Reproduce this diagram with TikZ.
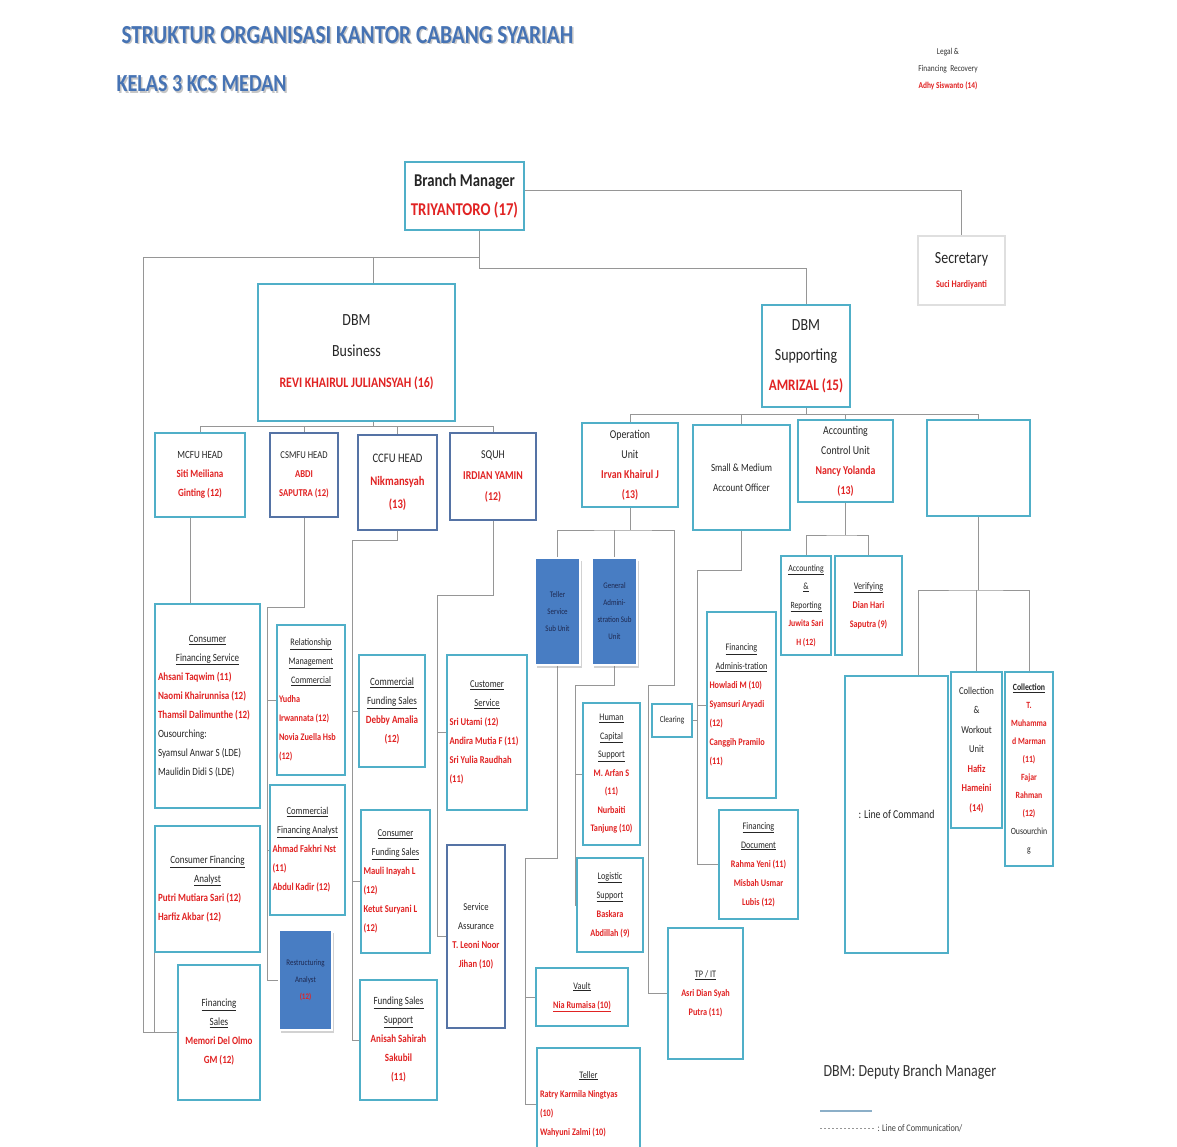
\documentclass[tikz,border=0pt]{standalone}
\usepackage{fontspec}
\setmainfont{Carlito}[FakeStretch=0.82]
\usetikzlibrary{shadows}
\definecolor{tealD}{RGB}{40,120,140}
\definecolor{tealL}{RGB}{80,175,200}
\definecolor{steelD}{RGB}{50,75,115}
\definecolor{steelL}{RGB}{85,115,165}
\definecolor{blueF}{RGB}{72,125,195}
\definecolor{redn}{RGB}{225,35,35}
\definecolor{lineg}{RGB}{150,150,150}
\definecolor{titleb}{RGB}{70,115,180}
\definecolor{darktx}{RGB}{30,40,80}
\definecolor{legblue}{RGB}{140,175,200}
\pgfdeclarelayer{bg}
\pgfsetlayers{bg,main}
\newcommand\nm[1]{\textcolor{redn}{\bfseries #1}}
\newcommand\ctr[1]{\makebox[\hsize][c]{#1}}
\newcommand\uln[1]{\underline{#1}}
\newcommand\bx[7]{\node[#1, minimum width={#5-#3}, minimum height={#6-#4}] (#2) at ({(#3+#5)/2},{(#4+#6)/2}) {#7};}
\tikzset{
  tbox/.style={draw=tealD, line width=0.5pt, double=tealL, double distance=1.8pt, fill=white, inner sep=2pt, align=center, text=black!85, font=\fontsize{11}{19}\selectfont},
  sbox/.style={tbox, draw=steelD, double=steelL},
  gbox/.style={tbox, draw=gray!60, double=gray!25},
  bbox/.style={fill=blueF, draw=white, line width=2.5pt, drop shadow={shadow xshift=2pt, shadow yshift=-2.5pt, opacity=0.35}, align=center, inner sep=1pt, text=darktx, font=\fontsize{8.5}{17}\selectfont},
  lbox/.style={align=flush left},
  cn/.style={draw=lineg, line width=0.9pt},
  ttl/.style={anchor=west, font=\fontsize{26}{28}\selectfont\bfseries}
}
\begin{document}
\begin{tikzpicture}[x=1pt,y=-1pt]
\useasboundingbox (0,0) rectangle (1177,1147);
\clip (0,0) rectangle (1177,1147);

% titles
\node[ttl, text=gray!45] (titleS) at (119.5,36.5) {STRUKTUR ORGANISASI KANTOR CABANG SYARIAH};
\node[ttl, text=titleb] (title) at (118,35) {STRUKTUR ORGANISASI KANTOR CABANG SYARIAH};
\node[ttl, text=gray!45, font=\fontsize{24.5}{28}\selectfont\bfseries] (subS) at (114.5,85.5) {KELAS 3 KCS MEDAN};
\node[ttl, text=titleb, font=\fontsize{24.5}{28}\selectfont\bfseries] (sub) at (113,84) {KELAS 3 KCS MEDAN};
\node[align=center, font=\fontsize{9}{17}\selectfont, text=black!80] (legal) at (948,69) {Legal \&\\ Financing\ \ Recovery\\ \nm{Adhy Siswanto (14)}};

% top
\bx{tbox, font=\fontsize{18}{29}\selectfont\bfseries}{bm}{405}{162}{524}{230}{Branch Manager\\ \textcolor{redn}{TRIYANTORO (17)}}
\bx{gbox, font=\fontsize{17}{24}\selectfont}{sec}{918}{236}{1005}{305}{Secretary\\ {\fontsize{10}{14}\selectfont\nm{Suci Hardiyanti}}}
\bx{tbox, font=\fontsize{17}{31}\selectfont}{dbmb}{258}{284}{455}{421}{DBM\\ Business\\ {\fontsize{14.5}{31}\selectfont\nm{REVI KHAIRUL JULIANSYAH (16)}}}
\bx{tbox, font=\fontsize{17}{30}\selectfont}{dbms}{762}{305}{850}{407}{DBM\\ Supporting\\ {\fontsize{16}{30}\selectfont\nm{AMRIZAL (15)}}}

% heads
\bx{tbox, font=\fontsize{11}{19}\selectfont}{mcfu}{155}{433}{245}{517}{MCFU HEAD\\ \nm{Siti Meiliana}\\ \nm{Ginting (12)}}
\bx{sbox, font=\fontsize{10.5}{19}\selectfont}{csmfu}{270}{433}{338}{517}{CSMFU HEAD\\ \nm{ABDI}\\ \nm{SAPUTRA (12)}}
\bx{sbox, font=\fontsize{13}{23}\selectfont}{ccfu}{358}{435}{437}{530}{CCFU HEAD\\ \nm{Nikmansyah}\\ \nm{(13)}}
\bx{sbox, font=\fontsize{12}{21}\selectfont}{squh}{450}{433}{536}{520}{SQUH\\ \nm{IRDIAN YAMIN}\\ \nm{(12)}}
\bx{tbox, font=\fontsize{12}{20}\selectfont}{opu}{582}{423}{678}{507}{Operation\\ Unit\\ \nm{Irvan Khairul J}\\ \nm{(13)}}
\bx{tbox, font=\fontsize{11}{20}\selectfont}{smao}{693}{425}{790}{530}{Small \& Medium\\ Account Officer}
\bx{tbox, font=\fontsize{12}{20}\selectfont}{acu}{798}{420}{893}{502}{Accounting\\ Control Unit\\ \nm{Nancy Yolanda}\\ \nm{(13)}}
\bx{tbox}{emp}{927}{420}{1030}{516}{}

% business side
\bx{tbox, lbox, text width=99pt}{cfs}{155}{604}{260}{808}{\ctr{\uln{Consumer}}\\ \ctr{\uln{Financing Service}}\\ \nm{Ahsani Taqwim (11)}\\ \nm{Naomi Khairunnisa (12)}\\ \nm{Thamsil Dalimunthe (12)}\\ Ousourching:\\ Syamsul Anwar S (LDE)\\ Maulidin Didi S (LDE)}
\bx{tbox, lbox, text width=64pt, inner sep=1pt, font=\fontsize{10}{19}\selectfont}{rmc}{277}{625}{345}{775}{\ctr{\uln{Relationship}}\\ \ctr{\uln{Management}}\\ \ctr{\uln{Commercial}}\\ \nm{Yudha}\\ \nm{Irwannata (12)}\\ \nm{Novia Zuella Hsb}\\ \nm{(12)}}
\bx{tbox, lbox, text width=70pt, inner sep=1pt, font=\fontsize{10.5}{19}\selectfont}{cfa}{270}{785}{345}{915}{\ctr{\uln{Commercial}}\\ \ctr{\uln{Financing Analyst}}\\ \nm{Ahmad Fakhri Nst}\\ \nm{(11)}\\ \nm{Abdul Kadir (12)}}
\bx{bbox}{ra}{279}{930}{332}{1030}{Restructuring\\ Analyst\\ \nm{(12)}}
\bx{tbox, lbox, text width=99pt}{cfan}{155}{826}{260}{952}{\ctr{\uln{Consumer Financing}}\\ \ctr{\uln{Analyst}}\\ \nm{Putri Mutiara Sari (12)}\\ \nm{Harfiz Akbar (12)}}
\bx{tbox}{fs}{178}{965}{260}{1100}{\uln{Financing}\\ \uln{Sales}\\ \nm{Memori Del Olmo}\\ \nm{GM (12)}}
\bx{tbox}{cmfs}{359}{655}{425}{767}{\uln{Commercial}\\ \uln{Funding Sales}\\ \nm{Debby Amalia}\\ \nm{(12)}}
\bx{tbox, lbox, text width=64pt, inner sep=1pt, font=\fontsize{10.5}{19}\selectfont}{cnfs}{361}{810}{430}{953}{\ctr{\uln{Consumer}}\\ \ctr{\uln{Funding Sales}}\\ \nm{Mauli Inayah L}\\ \nm{(12)}\\ \nm{Ketut Suryani L}\\ \nm{(12)}}
\bx{tbox}{fss}{360}{980}{437}{1100}{\uln{Funding Sales}\\ \uln{Support}\\ \nm{Anisah Sahirah}\\ \nm{Sakubil}\\ \nm{(11)}}
\bx{tbox, lbox, text width=75pt, inner sep=1pt, font=\fontsize{10.5}{19}\selectfont}{cs}{447}{655}{527}{810}{\ctr{\uln{Customer}}\\ \ctr{\uln{Service}}\\ \nm{Sri Utami (12)}\\ \nm{Andira Mutia F (11)}\\ \nm{Sri Yulia Raudhah}\\ \nm{(11)}}
\bx{sbox, font=\fontsize{10.5}{19}\selectfont}{sa}{447}{845}{505}{1028}{Service\\ Assurance\\ \nm{T. Leoni Noor}\\ \nm{Jihan (10)}}

% operation side
\bx{bbox}{tssu}{535}{558}{580}{665}{Teller\\ Service\\ Sub Unit}
\bx{bbox}{gasu}{592}{558}{637}{665}{General\\ Admini-\\ stration Sub\\ Unit}
\bx{tbox, font=\fontsize{10}{18.5}\selectfont}{hcs}{583}{703}{640}{845}{\uln{Human}\\ \uln{Capital}\\ \uln{Support}\\ \nm{M. Arfan S}\\ \nm{(11)}\\ \nm{Nurbaiti}\\ \nm{Tanjung (10)}}
\bx{tbox, font=\fontsize{10}{19}\selectfont}{ls}{577}{858}{643}{952}{\uln{Logistic}\\ \uln{Support}\\ \nm{Baskara}\\ \nm{Abdillah (9)}}
\bx{tbox, font=\fontsize{10}{19}\selectfont}{vault}{536}{968}{628}{1026}{\uln{Vault}\\ \nm{\uln{Nia Rumaisa (10)}}}
\bx{tbox, lbox, text width=97pt, font=\fontsize{10}{19}\selectfont}{teller}{537}{1048}{640}{1160}{\ctr{\uln{Teller}}\\ \nm{Ratry Karmila Ningtyas}\\ \nm{(10)}\\ \nm{Wahyuni Zalmi (10)}}
\bx{tbox, inner sep=1pt, font=\fontsize{9}{12}\selectfont}{clr}{652}{704}{692}{737}{Clearing}
\bx{tbox, font=\fontsize{10}{19}\selectfont}{tpit}{668}{928}{743}{1059}{\uln{TP / IT}\\ \nm{Asri Dian Syah}\\ \nm{Putra (11)}}
\bx{tbox, lbox, text width=64pt, inner sep=1pt, font=\fontsize{10}{19}\selectfont}{fa}{707}{612}{776}{798}{\ctr{\uln{Financing}}\\ \ctr{\uln{Adminis-tration}}\\ \nm{Howladi M (10)}\\ \nm{Syamsuri Aryadi}\\ \nm{(12)}\\ \nm{Canggih Pramilo}\\ \nm{(11)}}
\bx{tbox, font=\fontsize{10}{19}\selectfont}{fd}{719}{810}{798}{919}{\uln{Financing}\\ \uln{Document}\\ \nm{Rahma Yeni (11)}\\ \nm{Misbah Usmar}\\ \nm{Lubis (12)}}
\bx{tbox, font=\fontsize{9.5}{18.5}\selectfont}{ar}{781}{556}{831}{655}{\uln{Accounting}\\ \uln{\&}\\ \uln{Reporting}\\ \nm{Juwita Sari}\\ \nm{H (12)}}
\bx{tbox, font=\fontsize{10}{19}\selectfont}{ver}{835}{556}{902}{655}{\uln{Verifying}\\ \nm{Dian Hari}\\ \nm{Saputra (9)}}
\bx{tbox, font=\fontsize{12}{16}\selectfont}{loc}{845}{676}{948}{953}{: Line of Command}
\bx{tbox, font=\fontsize{10.5}{19.5}\selectfont}{cwu}{951}{672}{1002}{828}{Collection\\ \&\\ Workout\\ Unit\\ \nm{Hafiz}\\ \nm{Hameini}\\ \nm{(14)}}
\bx{tbox, font=\fontsize{9.5}{18}\selectfont}{col}{1005}{672}{1053}{866}{\uln{\bfseries Collection}\\ \nm{T.}\\ \nm{Muhamma}\\ \nm{d Marman}\\ \nm{(11)}\\ \nm{Fajar}\\ \nm{Rahman}\\ \nm{(12)}\\ Ousourchin\\ g}

% legend
\node[anchor=west, font=\fontsize{17}{20}\selectfont, text=black!80] (legdbm) at (820,1072) {DBM: Deputy Branch Manager};
\coordinate (lsa) at (820,1111);
\coordinate (lsb) at (872,1111);
\coordinate (lda) at (820,1128);
\node[anchor=west, font=\fontsize{10}{12}\selectfont, text=black!75] (legcom) at (874,1128) {: Line of Communication/};
\draw[legblue, line width=1.5pt] (lsa) -- (lsb);
\draw[lineg, line width=1pt, dash pattern=on 2pt off 2pt] (lda) -- (legcom.west);

% connectors
\begin{pgfonlayer}{bg}
\fill[white] (0,0) rectangle (1177,1147);
\coordinate (bmj) at ([xshift=15pt]bm.south);
\coordinate (jl) at (143,257);
\coordinate (dbj) at ([xshift=17pt]dbmb.north);
\draw[cn] ([yshift=6pt]bm.east) -| (sec.north);
\draw[cn] (bmj) -- ++(0,38) -| (dbms.north);
\draw[cn] (bmj |- jl) -- (jl) |- (fs.west);
\draw[cn] (dbj |- jl) -- (dbj);
% business bus
\draw[cn] ([xshift=17pt]dbmb.south) -- ++(0,6);
\draw[cn] (mcfu.north) -- ++(0,-6) -| (squh.north);
\draw[cn] (csmfu.north) -- ++(0,-6);
\draw[cn] (ccfu.north) -- ++(0,-8);
% supporting bus
\draw[cn] (dbms.south) -- ++(0,8);
\draw[cn] (opu.north) -- ++(0,-8) -| (emp.north);
\draw[cn] (smao.north) -- ++(0,-10);
\draw[cn] (acu.north) -- ++(0,-5);
% MCFU
\coordinate (m1) at ([xshift=-10pt]mcfu.south);
\draw[cn] (m1) -- (m1 |- cfs.north);
\draw[cn] (cfan.south west) |- (fs.west);
% CSMFU
\coordinate (cs1) at (267,607);
\draw[cn] (csmfu.south) |- (cs1) |- (ra.west);
\draw[cn] (cs1 |- rmc.west) -- (rmc.west);
\draw[cn] (cs1 |- cfa.west) -- (cfa.west);
% CCFU
\coordinate (cc1) at (352,540);
\draw[cn] (ccfu.south) |- (cc1) |- (fss.west);
\draw[cn] (cc1 |- cmfs.west) -- (cmfs.west);
\draw[cn] (cc1 |- cnfs.west) -- (cnfs.west);
% SQUH
\coordinate (sq1) at (437,595);
\draw[cn] (squh.south) |- (sq1) |- (sa.west);
\draw[cn] (sq1 |- cs.west) -- (cs.west);
% Operation
\coordinate (op1) at (630,530);
\coordinate (op2) at (674,685);
\coordinate (op3) at (648,685);
\draw[cn] (opu.south) -- (op1);
\draw[cn] (tssu.north) |- (op1) -| (op2) -- (op3) |- (tpit.west);
\draw[cn] (gasu.north) -- (gasu.north |- op1);
\coordinate (ts1) at (525,858);
\draw[cn] (tssu.south) |- (ts1) |- (teller.west);
\draw[cn] (ts1 |- vault.west) -- (vault.west);
\coordinate (ga1) at (575,685);
\draw[cn] (gasu.south) |- (ga1) |- (ls.west);
\draw[cn] (ga1 |- hcs.west) -- (hcs.west);
% Small & Medium
\coordinate (sm1) at (697,570);
\draw[cn] (smao.south) |- (sm1) |- (fd.west);
\draw[cn] (sm1 |- fa.west) -- (fa.west);
\draw[cn] (clr.east) -- (sm1 |- clr.east);
% Accounting control
\coordinate (ac1) at (846,535);
\draw[cn] (acu.south) -- (acu.south |- ac1);
\draw[cn] (ar.north) |- (ac1) -| (ver.north);
% empty box
\coordinate (em1) at (978,590);
\coordinate (lj) at ([xshift=21.5pt]loc.north);
\draw[cn] (emp.south) -- (emp.south |- em1);
\draw[cn] (lj) |- (em1) -| (col.north);
\draw[cn] (cwu.north) -- (cwu.north |- em1);
\end{pgfonlayer}
\end{tikzpicture}
\end{document}
